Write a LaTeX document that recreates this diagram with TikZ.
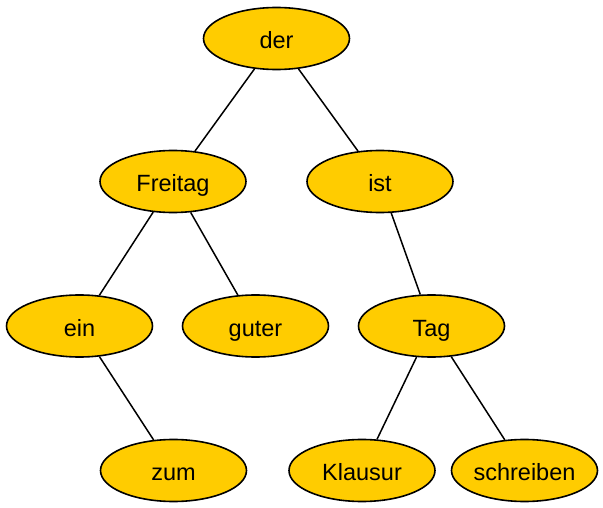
\documentclass[tikz,border=0pt]{standalone}
\usepackage{fontspec}
\setmainfont{Liberation Sans}
\usetikzlibrary{shapes.geometric}
\definecolor{gold}{HTML}{FFCC00}
\begin{document}
\begin{tikzpicture}[x=1pt,y=-1pt,
  wordnode/.style={ellipse,draw=black,fill=gold,line width=1.6pt,
    minimum width=146pt,minimum height=62pt,inner sep=0pt,
    text height=20pt,text depth=0pt,
    font=\fontsize{23.5}{26}\selectfont},
  edge/.style={line width=1.5pt}]
\useasboundingbox (0,0) rectangle (603,508);
\node[wordnode] (der) at (276.5,38.5) {der};
\node[wordnode] (freitag) at (173,181.5) {Freitag};
\node[wordnode] (ist) at (380,181.5) {ist};
\node[wordnode] (ein) at (79.5,326) {ein};
\node[wordnode] (guter) at (255.5,326) {guter};
\node[wordnode] (tag) at (431.5,326) {Tag};
\node[wordnode] (zum) at (173.5,470.5) {zum};
\node[wordnode] (klausur) at (362,470.5) {Klausur};
\node[wordnode] (schreiben) at (524.5,470.5) {schreiben};
\draw[edge] (der) -- (freitag);
\draw[edge] (der) -- (ist);
\draw[edge] (freitag) -- (ein);
\draw[edge] (freitag) -- (guter);
\draw[edge] (ist) -- (tag);
\draw[edge] (ein) -- (zum);
\draw[edge] (tag) -- (klausur);
\draw[edge] (tag) -- (schreiben);
\end{tikzpicture}
\end{document}
